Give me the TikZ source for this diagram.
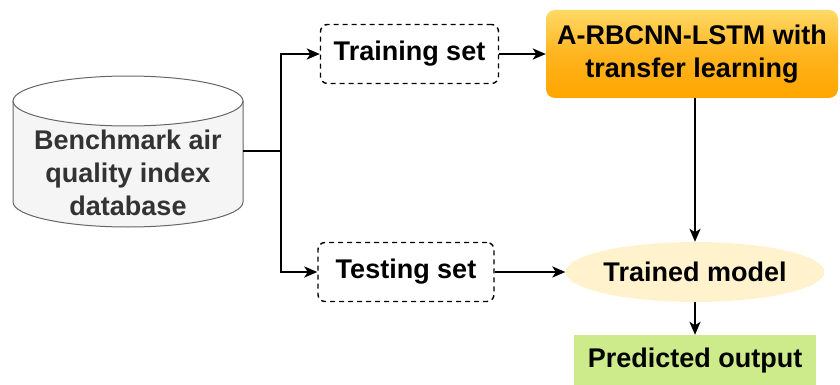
\documentclass[tikz,border=0pt]{standalone}
\usepackage{fontspec}
\setmainfont{Liberation Sans}
\usetikzlibrary{arrows.meta,shapes.geometric,shadings}
\definecolor{dbgrey}{HTML}{F5F5F5}
\definecolor{dbline}{HTML}{666666}
\definecolor{dbtext}{HTML}{333333}
\definecolor{orgtop}{HTML}{FFD966}
\definecolor{orgbot}{HTML}{FFA500}
\definecolor{tmfill}{HTML}{FFF2CC}
\definecolor{pofill}{HTML}{CDEB8B}
\begin{document}
\begin{tikzpicture}[x=1pt,y=-1pt,
  txt/.style={font=\fontsize{27}{33}\selectfont\bfseries, align=center},
  setbox/.style={txt, draw=black, dashed, line width=1.4pt, rounded corners=7pt, dash pattern=on 5pt off 4pt, minimum height=59pt, inner sep=0pt},
  conn/.style={line width=2.6pt, -{Stealth[length=13pt,width=11pt,inset=3.5pt]}},
  plain/.style={line width=2.6pt}]
\useasboundingbox (0,0) rectangle (840,385);
% cylinder
\fill[dbgrey] (13,101) -- (13,202) arc[start angle=180,end angle=360,x radius=115,y radius=-25] -- (243,101) arc[start angle=0,end angle=180,x radius=115,y radius=25];
\draw[dbline,line width=1pt] (13,101) -- (13,202) arc[start angle=180,end angle=360,x radius=115,y radius=-25] -- (243,101);
\draw[dbline,line width=1pt] (128,101) ellipse[x radius=115,y radius=25];
\node[txt, text=dbtext] (db) at (128,173) {Benchmark air\\quality index\\database};
\coordinate (dbr) at (243,151);
\coordinate (split) at (281,151);
% boxes
\node[setbox, minimum width=178pt] (train) at (409.5,54) {Training set};
\node[setbox, minimum width=176pt] (test) at (406,272) {Testing set};
\shade[top color=orgtop, bottom color=orgbot, middle color=orgbot!70!orgtop, rounded corners=9pt] (546,10) rectangle (838,98);
\node[txt, minimum width=292pt, minimum height=88pt] (model) at (692,54) {A-RBCNN-LSTM with\\transfer learning};
\node[txt, ellipse, fill=tmfill, minimum width=218pt, minimum height=60pt, inner sep=0pt] (trained) at (695,272) {Trained model};
\node[txt, fill=pofill, minimum width=242pt, minimum height=52pt, inner sep=0pt] (pred) at (695,361) {Predicted output};
% connectors
\draw[plain] (dbr) -- (split);
\draw[conn] (split) |- (train.west);
\draw[conn] (split) |- (test.west);
\draw[conn] (train.east) -- (model.west);
\draw[conn] (model.south -| trained.north) -- (trained.north);
\draw[conn] (test.east) -- (trained.west);
\draw[conn] (trained.south) -- (pred.north);
\end{tikzpicture}
\end{document}
